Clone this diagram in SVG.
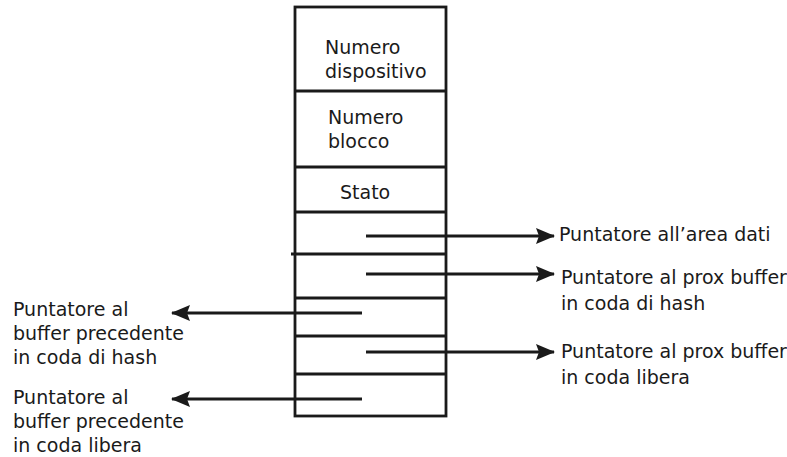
<svg xmlns="http://www.w3.org/2000/svg" width="787" height="457" viewBox="0 0 787 457">
<style>
.t{font-family:"DejaVu Sans","Liberation Sans",sans-serif;font-size:19px;fill:#1a1a1a}
.b{fill:none;stroke:#1a1a1a;stroke-width:2.8}
.c{stroke:#1a1a1a;stroke-width:2.8;fill:none}
</style>
<defs>
<marker id="ah" markerWidth="19" markerHeight="16" refX="18" refY="8" orient="auto" markerUnits="userSpaceOnUse">
<path d="M0,0 L19,8 L0,16 L3,8 Z" fill="#1a1a1a"/>
</marker>
</defs>
<rect width="787" height="457" fill="#fff"/>
<g id="buffer">
<rect class="b" x="295" y="7" width="151" height="409"/>
<line class="b" x1="295" y1="91" x2="446" y2="91"/>
<line class="b" x1="295" y1="167" x2="446" y2="167"/>
<line class="b" x1="295" y1="212" x2="446" y2="212"/>
<line class="b" x1="291" y1="254" x2="446" y2="254"/>
<line class="b" x1="295" y1="298" x2="446" y2="298"/>
<line class="b" x1="295" y1="336" x2="446" y2="336"/>
<line class="b" x1="295" y1="374" x2="446" y2="374"/>
</g>
<g id="numero-dispositivo">
<text class="t" x="325" y="54">Numero</text>
<text class="t" x="325" y="78">dispositivo</text>
</g>
<g id="numero-blocco">
<text class="t" x="328" y="124">Numero</text>
<text class="t" x="328" y="148">blocco</text>
</g>
<g id="stato">
<text class="t" x="340" y="199">Stato</text>
</g>
<g id="connectors">
<line class="c" x1="366" y1="236" x2="554" y2="236" marker-end="url(#ah)"/>
<line class="c" x1="366" y1="274" x2="554" y2="274" marker-end="url(#ah)"/>
<line class="c" x1="366" y1="352" x2="554" y2="352" marker-end="url(#ah)"/>
<line class="c" x1="362" y1="313" x2="172" y2="313" marker-end="url(#ah)"/>
<line class="c" x1="362" y1="399" x2="172" y2="399" marker-end="url(#ah)"/>
</g>
<g id="area-dati">
<text class="t" x="559" y="241">Puntatore all’area dati</text>
</g>
<g id="prox-hash">
<text class="t" x="561" y="284">Puntatore al prox buffer</text>
<text class="t" x="561" y="310">in coda di hash</text>
</g>
<g id="prox-libera">
<text class="t" x="561" y="358">Puntatore al prox buffer</text>
<text class="t" x="561" y="384">in coda libera</text>
</g>
<g id="prec-hash">
<text class="t" x="13" y="316">Puntatore al</text>
<text class="t" x="13" y="340">buffer precedente</text>
<text class="t" x="13" y="364">in coda di hash</text>
</g>
<g id="prec-libera">
<text class="t" x="13" y="404">Puntatore al</text>
<text class="t" x="13" y="428">buffer precedente</text>
<text class="t" x="13" y="452">in coda libera</text>
</g>
</svg>
